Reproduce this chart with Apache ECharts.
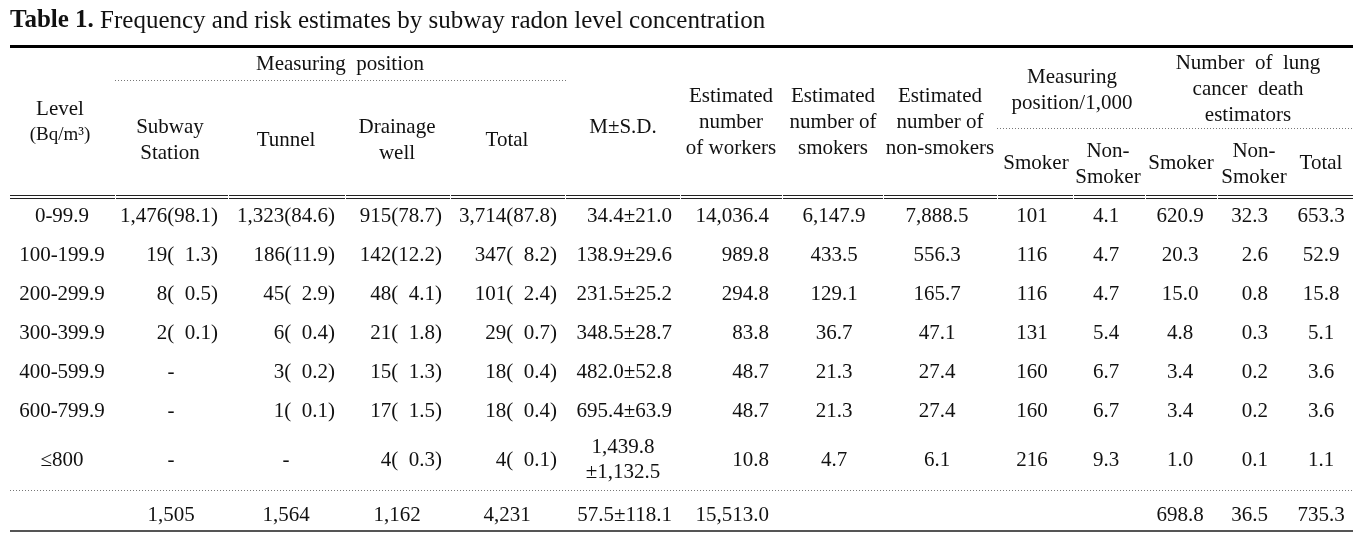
<!DOCTYPE html>
<html><head><meta charset="utf-8">
<script src="https://cdn.jsdelivr.net/npm/echarts@6/dist/echarts.min.js"></script>
<style>html,body{margin:0;padding:0;background:#fff}#c{width:1372px;height:533px}</style>
</head><body><div id="c"></div>
<script>
// ---------------- data ----------------
const levels = ['0-99.9','100-199.9','200-299.9','300-399.9','400-599.9','600-799.9','\u2264800'];
const stationN = [1476,19,8,2,null,null,null];
const stationPct = [98.1,1.3,0.5,0.1,null,null,null];
const tunnelN = [1323,186,45,6,3,1,null];
const tunnelPct = [84.6,11.9,2.9,0.4,0.2,0.1,null];
const drainN = [915,142,48,21,15,17,4];
const drainPct = [78.7,12.2,4.1,1.8,1.3,1.5,0.3];
const totalN = [3714,347,101,29,18,18,4];
const totalPct = [87.8,8.2,2.4,0.7,0.4,0.4,0.1];
const meanVal = [34.4,138.9,231.5,348.5,482.0,695.4,1439.8];
const sdVal = [21.0,29.6,25.2,28.7,52.8,63.9,1132.5];
const workers = [14036.4,989.8,294.8,83.8,48.7,48.7,10.8];
const smokers = [6147.9,433.5,129.1,36.7,21.3,21.3,4.7];
const nonSmokers = [7888.5,556.3,165.7,47.1,27.4,27.4,6.1];
const riskSmoker = [101,116,116,131,160,160,216];
const riskNonSmoker = [4.1,4.7,4.7,5.4,6.7,6.7,9.3];
const deathSmoker = [620.9,20.3,15.0,4.8,3.4,3.4,1.0];
const deathNonSmoker = [32.3,2.6,0.8,0.3,0.2,0.2,0.1];
const deathTotal = [653.3,52.9,15.8,5.1,3.6,3.6,1.1];
// totals row
const sumCounts = [1505,1564,1162,4231];
const sumMeanSD = [57.5,118.1];
const sumWorkers = [15513.0];
const sumDeaths = [698.8,36.5,735.3];

// ---------------- formatting ----------------
function fmt(v,d){ if(v==null) return '-'; const s=v.toFixed(d); const p=s.split('.'); p[0]=p[0].replace(/\B(?=(\d{3})+(?!\d))/g,','); return p.join('.'); }
function cnt(n,p){ if(n==null) return '-'; return fmt(n,0)+'('+(p<10?'  ':'')+p.toFixed(1)+')'; }

const nRows = levels.length;
const colCells = [
  levels.concat(['']),
  stationN.map((n,i)=>cnt(n,stationPct[i])).concat([fmt(sumCounts[0],0)]),
  tunnelN.map((n,i)=>cnt(n,tunnelPct[i])).concat([fmt(sumCounts[1],0)]),
  drainN.map((n,i)=>cnt(n,drainPct[i])).concat([fmt(sumCounts[2],0)]),
  totalN.map((n,i)=>cnt(n,totalPct[i])).concat([fmt(sumCounts[3],0)]),
  meanVal.map((m,i)=> i===nRows-1 ? fmt(m,1)+'\n\u00b1'+fmt(sdVal[i],1) : fmt(m,1)+'\u00b1'+fmt(sdVal[i],1)).concat([fmt(sumMeanSD[0],1)+'\u00b1'+fmt(sumMeanSD[1],1)]),
  workers.map(v=>fmt(v,1)).concat([fmt(sumWorkers[0],1)]),
  smokers.map(v=>fmt(v,1)).concat(['']),
  nonSmokers.map(v=>fmt(v,1)).concat(['']),
  riskSmoker.map(v=>fmt(v,0)).concat(['']),
  riskNonSmoker.map(v=>fmt(v,1)).concat(['']),
  deathSmoker.map(v=>fmt(v,1)).concat([fmt(sumDeaths[0],1)]),
  deathNonSmoker.map(v=>fmt(v,1)).concat([fmt(sumDeaths[1],1)]),
  deathTotal.map(v=>fmt(v,1)).concat([fmt(sumDeaths[2],1)])
];

// ---------------- layout ----------------
const colX     = [62, 218, 335, 442, 557, 672, 769, 834, 937, 1032, 1106, 1180, 1268, 1321];
const colAlign = ['center','right','right','right','right','right','right','center','center','center','center','center','right','center'];
const colMid   = [62, 171, 286, 397, 507, 623];
const rowY = [216, 255, 294, 333, 372, 411, 460, 515];
const FONT = '"Liberation Serif","Times New Roman",serif';
const FS = 21;

const series = colCells.map((cells,ci)=>({
  type:'custom',
  coordinateSystem:'cartesian2d',
  silent:true,
  data: cells.map((t,ri)=>[colX[ci], rowY[ri]]),
  renderItem:(params, api)=>{
    const t = cells[params.dataIndex];
    if(!t) return null;
    const p = api.coord([api.value(0), api.value(1)]);
    let align = colAlign[ci];
    let x = p[0];
    const isTotalRow = params.dataIndex === nRows;
    if(t==='-' || (isTotalRow && ci>=1 && ci<=4) || (ci===5 && t.indexOf('\n')>=0)){
      align='center'; x = api.coord([colMid[ci], 0])[0];
    }
    return {type:'text', x:x, y:p[1], style:{text:t, fontSize:FS, fontFamily:FONT, fill:'#111', align:align, verticalAlign:'middle', lineHeight:25}};
  }
}));

// header texts
function htext(x,y,t){ return {type:'text', x:x, y:y, silent:true, style:{text:t, fontSize:FS, fontFamily:FONT, fill:'#111', align:'center', verticalAlign:'middle', lineHeight:26}}; }
const headers = [
  htext(340,64,'Measuring  position'),
  {type:'text', x:60, y:122, silent:true, style:{text:'Level\n{s|(Bq/m\u00b3)}', fontSize:FS, fontFamily:FONT, fill:'#111', align:'center', verticalAlign:'middle', lineHeight:26, rich:{s:{fontSize:19, fontFamily:FONT, fill:'#111', lineHeight:26}}}},
  htext(170,140,'Subway\nStation'),
  htext(286,140,'Tunnel'),
  htext(397,140,'Drainage\nwell'),
  htext(507,140,'Total'),
  htext(623,127,'M\u00b1S.D.'),
  htext(731,122,'Estimated\nnumber\nof workers'),
  htext(833,122,'Estimated\nnumber of\nsmokers'),
  htext(940,122,'Estimated\nnumber of\nnon-smokers'),
  htext(1072,90,'Measuring\nposition/1,000'),
  htext(1248,89,'Number  of  lung\ncancer  death\nestimators'),
  htext(1036,163,'Smoker'),
  htext(1108,164,'Non-\nSmoker'),
  htext(1181,163,'Smoker'),
  htext(1254,164,'Non-\nSmoker'),
  htext(1321,163,'Total')
];

// rules
const L=10, R=1353;
const rules = [];
rules.push({type:'line', silent:true, shape:{x1:L,y1:46.5,x2:R,y2:46.5}, style:{stroke:'#000', lineWidth:3}});
rules.push({type:'line', silent:true, shape:{x1:115,y1:80.5,x2:567,y2:80.5}, style:{stroke:'#777', lineWidth:1, lineDash:[1,2]}});
rules.push({type:'line', silent:true, shape:{x1:997,y1:128.5,x2:R,y2:128.5}, style:{stroke:'#777', lineWidth:1, lineDash:[1,2]}});
const bounds=[115,228,345,450,565,680,782,883,997,1073,1145,1217];
const edges=[L].concat(bounds).concat([R]);
for(let i=0;i<edges.length-1;i++){
  const a=edges[i]+(i>0?1:0), b=edges[i+1];
  [195.5,198.5].forEach(y=>rules.push({type:'line', silent:true, shape:{x1:a,y1:y,x2:b,y2:y}, style:{stroke:'#222', lineWidth:1}}));
}
rules.push({type:'line', silent:true, shape:{x1:L,y1:490.5,x2:R,y2:490.5}, style:{stroke:'#777', lineWidth:1, lineDash:[1,2]}});
rules.push({type:'line', silent:true, shape:{x1:L,y1:531,x2:R,y2:531}, style:{stroke:'#555', lineWidth:2}});

const TFS = 25;
const title = {type:'text', x:10, y:21, silent:true, style:{text:'{b|Table 1.} Frequency and risk estimates by subway radon level concentration', fontSize:TFS, fontFamily:FONT, fill:'#111', align:'left', verticalAlign:'middle', rich:{b:{fontWeight:'bold', fontSize:TFS, fontFamily:FONT, fill:'#111'}}}};

const chart = echarts.init(document.getElementById('c'));
chart.setOption({
  animation:false,
  backgroundColor:'#fff',
  grid:{left:0,right:0,top:0,bottom:0},
  xAxis:{type:'value', min:0, max:1372, show:false},
  yAxis:{type:'value', min:0, max:533, inverse:true, show:false},
  graphic:[title].concat(headers).concat(rules),
  series: series
});
</script></body></html>
